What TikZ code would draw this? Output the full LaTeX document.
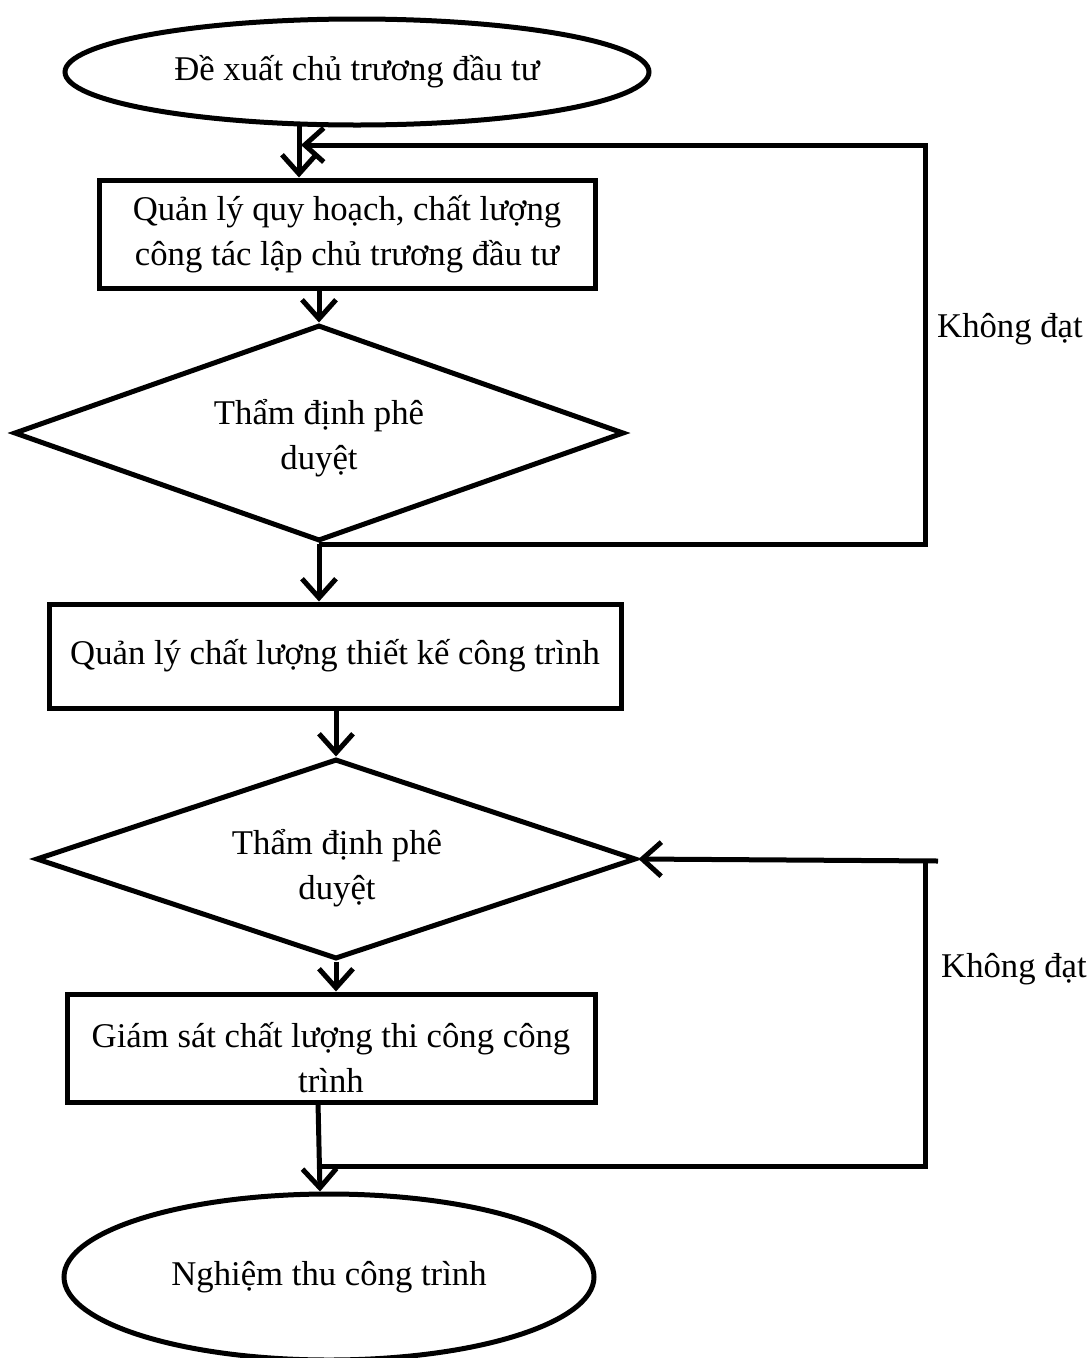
\documentclass[tikz,border=0pt]{standalone}
\usepackage{fontspec}
\setmainfont{Liberation Serif}
\usetikzlibrary{shapes.geometric,arrows.meta}

\tikzset{
  txt/.style={font=\fontsize{34.7}{45}\selectfont, align=center, inner sep=0pt},
  outline/.style={draw, line width=5pt},
  oval/.style={outline, ellipse, txt},
  stepbox/.style={outline, rectangle, txt},
  decision/.style={outline, diamond, inner sep=0pt},
  conn/.style={line width=5pt},
  arr/.style={conn, -{Straight Barb[length=19pt,width=34pt,line width=5pt]}},
}

\begin{document}
\begin{tikzpicture}[x=1pt, y=-1pt]
\useasboundingbox (0,0) rectangle (1089,1358);

% process nodes
\node[oval, minimum width=584pt, minimum height=106pt] (e1) at (357,72) {Đề xuất chủ trương đầu tư};
\node[stepbox, minimum width=496pt, minimum height=108pt] (b1) at (347,234)
  {Quản lý quy hoạch, chất lượng\\công tác lập chủ trương đầu tư};
\node[decision, minimum width=610pt, minimum height=216pt] (d1) at (319,433) {};
\node[txt] (d1t) at (319,438) {Thẩm định phê\\duyệt};
\node[stepbox, minimum width=572pt, minimum height=104pt] (b2) at (335,656) {Quản lý chất lượng thiết kế công trình};
\node[decision, minimum width=600pt, minimum height=200pt] (d2) at (336,859) {};
\node[txt] (d2t) at (337,868) {Thẩm định phê\\duyệt};
\node[stepbox, minimum width=528pt, minimum height=108pt] (b3) at (331,1048) {};
\node[txt] (b3t) at (331,1058) {Giám sát chất lượng thi công công\\trình};
\node[oval, minimum width=530pt, minimum height=166pt] (e2) at (329,1277) {Nghiệm thu công trình};

% side labels
\node[txt] (lbl1) at (1010,329) {Không đạt};
\node[txt] (lbl2) at (1014,969) {Không đạt};

% junction points
\coordinate (j1) at (299,126);
\coordinate (k1) at (301,145);
\coordinate (r1) at (925,544);
\coordinate (r2) at (938,861);
\coordinate (r2b) at (925,1166);
\coordinate (j3) at (318,1102);

% main flow
\draw[arr] (j1) -- (j1 |- b1.north);
\draw[arr] (b1.south -| d1.north) -- (d1.north);
\draw[arr] (d1.south) -- (d1.south |- b2.north);
\draw[arr] (b2.south -| d2.north) -- (d2.north);
\draw[arr] (d2.south) -- (d2.south |- b3.north);
\draw[arr] (j3) -- (e2.north -| 320,0);

% rejection loops
\draw[arr] (d1.south |- r1) -- (r1) -- (r1 |- k1) -- (k1);
\draw[arr] (r2) -- (d2.east);
\draw[conn] (r2b |- r2) -- (r2b) -- (j3 |- r2b);
\end{tikzpicture}
\end{document}
